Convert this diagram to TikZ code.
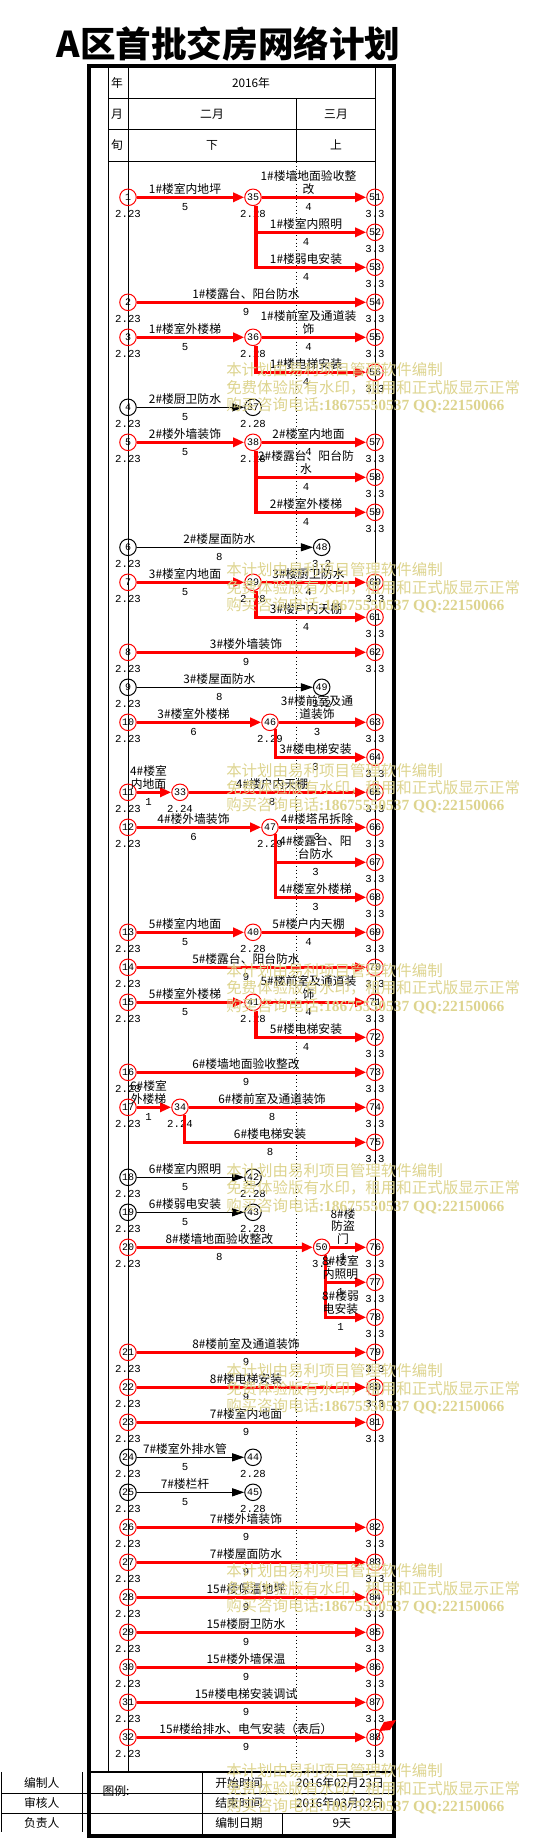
\documentclass[tikz,border=0pt]{standalone}
\usepackage{fontspec}
\setmainfont{Noto Sans CJK SC}
\newfontfamily\num{Liberation Mono}
\newfontfamily\wmb{Liberation Serif}
\usetikzlibrary{arrows.meta}
\definecolor{wm}{RGB}{221,212,143}
\tikzset{
 rn/.style={circle,draw=red,line width=0.75pt,minimum size=12.4pt,inner sep=0pt,font=\num\fontsize{7.5}{8}\selectfont},
 bn/.style={rn,draw=black},
 ra/.style={draw=red,line width=2.3pt,-{Triangle[length=8.25pt,width=6.75pt]}},
 ba/.style={draw=black,line width=0.75pt,-{Triangle[length=9pt,width=6pt]}},
 lbl/.style={anchor=south,inner sep=0pt,align=center,text depth=0pt,font=\fontsize{8.85}{9.45}\selectfont},
 dur/.style={inner sep=0pt,font=\num\fontsize{8}{8}\selectfont},
 dt/.style={inner sep=0pt,font=\num\fontsize{8}{8}\selectfont},
 hd/.style={inner sep=0pt,font=\fontsize{8.85}{9.45}\selectfont},
 wmt/.style={anchor=west,inner sep=0pt,text=wm,font=\fontsize{11.6}{12}\selectfont},
 gl/.style={line width=0.75pt},
}
\newcommand\nd[5]{\node[#4] (n#1) at (#2,{197.3+35*#3}) {#1};\node[dt] (d#1) at (#2,{213.8+35*#3}) {#5};}
\newcommand\lab[5]{\node[lbl] (l#1) at (#2,{193.8+35*#3}) {#4};\node[dur] (t#1) at (#2,{207.3+35*#3}) {#5};}
\begin{document}
\begin{tikzpicture}[x=0.75pt,y=-0.75pt]
\useasboundingbox (0,0) rectangle (533,1840);
% title
\node[font=\fontsize{26.7}{28}\selectfont\bfseries] (title) at (228.5,44) {A区首批交房网络计划};
% frame and grid
\draw[line width=3pt] (89,66.3) rectangle (394.2,1835.8);
\draw[gl] (108,66) -- (108,1772);
\draw[gl] (128,66) -- (128,1772);
\draw[gl] (375,66) -- (375,1772);
\draw[gl] (108,99) -- (375,99) (108,130) -- (375,130) (108,162) -- (375,162);
\draw[gl] (296.7,99) -- (296.7,162);
\draw[gl,dotted] (296.7,162) -- (296.7,1772);
\node[hd] (h1) at (117,83) {年};
\node[hd] (h2) at (251,83) {2016年};
\node[hd] (h3) at (117,114) {月};
\node[hd] (h4) at (212,114) {二月};
\node[hd] (h5) at (336,114) {三月};
\node[hd] (h6) at (117,145) {旬};
\node[hd] (h7) at (212,145) {下};
\node[hd] (h8) at (336,145) {上};
% bottom table
\draw[line width=1.6pt] (89,1772) -- (394.2,1772);
\draw[gl] (1.7,1772) -- (1.7,1832) (82.3,1772) -- (82.3,1832);
\draw[gl] (1.7,1793) -- (394,1793) (1.7,1813) -- (394,1813);
\draw[gl] (202.7,1772) -- (202.7,1835) (282.7,1813) -- (282.7,1835);
\node[hd] (b1) at (41.7,1783) {编制人};
\node[hd] (b2) at (41.7,1803) {审核人};
\node[hd] (b3) at (41.7,1823) {负责人};
\node[hd] (b4) at (116,1791) {图例:};
\node[hd] (b5) at (239,1783) {开始时间};
\node[hd] (b6) at (340,1783) {2016年02月23日};
\node[hd] (b7) at (239,1803) {结束时间};
\node[hd] (b8) at (340,1803) {2016年03月02日};
\node[hd] (b9) at (239,1823) {编制日期};
\node[hd] (b10) at (341.7,1823) {9天};
% nodes
\nd{1}{128}{0}{rn}{2.23}\nd{35}{253}{0}{rn}{2.28}\nd{51}{375}{0}{rn}{3.3}
\nd{52}{375}{1}{rn}{3.3}
\nd{53}{375}{2}{rn}{3.3}
\nd{2}{128}{3}{rn}{2.23}\nd{54}{375}{3}{rn}{3.3}
\nd{3}{128}{4}{rn}{2.23}\nd{36}{253}{4}{rn}{2.28}\nd{55}{375}{4}{rn}{3.3}
\nd{56}{375}{5}{rn}{3.3}
\nd{4}{128}{6}{bn}{2.23}\nd{37}{253}{6}{bn}{2.28}
\nd{5}{128}{7}{rn}{2.23}\nd{38}{253}{7}{rn}{2.28}\nd{57}{375}{7}{rn}{3.3}
\nd{58}{375}{8}{rn}{3.3}
\nd{59}{375}{9}{rn}{3.3}
\nd{6}{128}{10}{bn}{2.23}\nd{48}{321.7}{10}{bn}{3.2}
\nd{7}{128}{11}{rn}{2.23}\nd{39}{253}{11}{rn}{2.28}\nd{60}{375}{11}{rn}{3.3}
\nd{61}{375}{12}{rn}{3.3}
\nd{8}{128}{13}{rn}{2.23}\nd{62}{375}{13}{rn}{3.3}
\nd{9}{128}{14}{bn}{2.23}\nd{49}{321.7}{14}{bn}{3.2}
\nd{10}{128}{15}{rn}{2.23}\nd{46}{270}{15}{rn}{2.29}\nd{63}{375}{15}{rn}{3.3}
\nd{64}{375}{16}{rn}{3.3}
\nd{11}{128}{17}{rn}{2.23}\nd{33}{180}{17}{rn}{2.24}\nd{65}{375}{17}{rn}{3.3}
\nd{12}{128}{18}{rn}{2.23}\nd{47}{270}{18}{rn}{2.29}\nd{66}{375}{18}{rn}{3.3}
\nd{67}{375}{19}{rn}{3.3}
\nd{68}{375}{20}{rn}{3.3}
\nd{13}{128}{21}{rn}{2.23}\nd{40}{253}{21}{rn}{2.28}\nd{69}{375}{21}{rn}{3.3}
\nd{14}{128}{22}{rn}{2.23}\nd{70}{375}{22}{rn}{3.3}
\nd{15}{128}{23}{rn}{2.23}\nd{41}{253}{23}{rn}{2.28}\nd{71}{375}{23}{rn}{3.3}
\nd{72}{375}{24}{rn}{3.3}
\nd{16}{128}{25}{rn}{2.23}\nd{73}{375}{25}{rn}{3.3}
\nd{17}{128}{26}{rn}{2.23}\nd{34}{180}{26}{rn}{2.24}\nd{74}{375}{26}{rn}{3.3}
\nd{75}{375}{27}{rn}{3.3}
\nd{18}{128}{28}{bn}{2.23}\nd{42}{253}{28}{bn}{2.28}
\nd{19}{128}{29}{bn}{2.23}\nd{43}{253}{29}{bn}{2.28}
\nd{20}{128}{30}{rn}{2.23}\nd{50}{321.7}{30}{rn}{3.2}\nd{76}{375}{30}{rn}{3.3}
\nd{77}{375}{31}{rn}{3.3}
\nd{78}{375}{32}{rn}{3.3}
\nd{21}{128}{33}{rn}{2.23}\nd{79}{375}{33}{rn}{3.3}
\nd{22}{128}{34}{rn}{2.23}\nd{80}{375}{34}{rn}{3.3}
\nd{23}{128}{35}{rn}{2.23}\nd{81}{375}{35}{rn}{3.3}
\nd{24}{128}{36}{bn}{2.23}\nd{44}{253}{36}{bn}{2.28}
\nd{25}{128}{37}{bn}{2.23}\nd{45}{253}{37}{bn}{2.28}
\nd{26}{128}{38}{rn}{2.23}\nd{82}{375}{38}{rn}{3.3}
\nd{27}{128}{39}{rn}{2.23}\nd{83}{375}{39}{rn}{3.3}
\nd{28}{128}{40}{rn}{2.23}\nd{84}{375}{40}{rn}{3.3}
\nd{29}{128}{41}{rn}{2.23}\nd{85}{375}{41}{rn}{3.3}
\nd{30}{128}{42}{rn}{2.23}\nd{86}{375}{42}{rn}{3.3}
\nd{31}{128}{43}{rn}{2.23}\nd{87}{375}{43}{rn}{3.3}
\nd{32}{128}{44}{rn}{2.23}\nd{88}{375}{44}{rn}{3.3}
% arrows
\draw[ra] (n1) -- (n35); \draw[ra] (n35) -- (n51);
\draw[ra] (n35.-70) |- (n52); \draw[ra] (n35.-70) |- (n53);
\draw[ra] (n2) -- (n54);
\draw[ra] (n3) -- (n36); \draw[ra] (n36) -- (n55); \draw[ra] (n36.-70) |- (n56);
\draw[ba] (n4) -- (n37);
\draw[ra] (n5) -- (n38); \draw[ra] (n38) -- (n57);
\draw[ra] (n38.-70) |- (n58); \draw[ra] (n38.-70) |- (n59);
\draw[ba] (n6) -- (n48);
\draw[ra] (n7) -- (n39); \draw[ra] (n39) -- (n60); \draw[ra] (n39.-70) |- (n61);
\draw[ra] (n8) -- (n62);
\draw[ba] (n9) -- (n49);
\draw[ra] (n10) -- (n46); \draw[ra] (n46) -- (n63); \draw[ra] (n46.-51) |- (n64);
\draw[ra] (n11) -- (n33); \draw[ra] (n33) -- (n65);
\draw[ra] (n12) -- (n47); \draw[ra] (n47) -- (n66);
\draw[ra] (n47.-51) |- (n67); \draw[ra] (n47.-51) |- (n68);
\draw[ra] (n13) -- (n40); \draw[ra] (n40) -- (n69);
\draw[ra] (n14) -- (n70);
\draw[ra] (n15) -- (n41); \draw[ra] (n41) -- (n71); \draw[ra] (n41.-70) |- (n72);
\draw[ra] (n16) -- (n73);
\draw[ra] (n17) -- (n34); \draw[ra] (n34) -- (n74); \draw[ra] (n34.-60) |- (n75);
\draw[ba] (n18) -- (n42);
\draw[ba] (n19) -- (n43);
\draw[ra] (n20) -- (n50); \draw[ra] (n50) -- (n76);
\draw[ra] (n50.-66) |- (n77); \draw[ra] (n50.-66) |- (n78);
\draw[ra] (n21) -- (n79);
\draw[ra] (n22) -- (n80);
\draw[ra] (n23) -- (n81);
\draw[ba] (n24) -- (n44);
\draw[ba] (n25) -- (n45);
\draw[ra] (n26) -- (n82);
\draw[ra] (n27) -- (n83);
\draw[ra] (n28) -- (n84);
\draw[ra] (n29) -- (n85);
\draw[ra] (n30) -- (n86);
\draw[ra] (n31) -- (n87);
\draw[ra] (n32) -- (n88);
% labels
\lab{a1}{185}{0}{1\#楼室内地坪}{5}
\lab{a2}{308.5}{0}{1\#楼墙地面验收整\\改}{4}
\lab{a3}{306}{1}{1\#楼室内照明}{4}
\lab{a4}{306}{2}{1\#楼弱电安装}{4}
\lab{a5}{246}{3}{1\#楼露台、阳台防水}{9}
\lab{a6}{185}{4}{1\#楼室外楼梯}{5}
\lab{a7}{308.5}{4}{1\#楼前室及通道装\\饰}{4}
\lab{a8}{306}{5}{1\#楼电梯安装}{4}
\lab{a9}{185}{6}{2\#楼厨卫防水}{5}
\lab{a10}{185}{7}{2\#楼外墙装饰}{5}
\lab{a11}{308.5}{7}{2\#楼室内地面}{4}
\lab{a12}{306}{8}{2\#楼露台、阳台防\\水}{4}
\lab{a13}{306}{9}{2\#楼室外楼梯}{4}
\lab{a14}{219.4}{10}{2\#楼屋面防水}{8}
\lab{a15}{185}{11}{3\#楼室内地面}{5}
\lab{a16}{308.5}{11}{3\#楼厨卫防水}{4}
\lab{a17}{306}{12}{3\#楼户内天棚}{4}
\lab{a18}{246}{13}{3\#楼外墙装饰}{9}
\lab{a19}{219.4}{14}{3\#楼屋面防水}{8}
\lab{a20}{193.5}{15}{3\#楼室外楼梯}{6}
\lab{a21}{317}{15}{3\#楼前室及通\\道装饰}{3}
\lab{a22}{315.5}{16}{3\#楼电梯安装}{3}
\lab{a23}{148.5}{17}{4\#楼室\\内地面}{1}
\lab{a24}{272}{17}{4\#楼户内天棚}{8}
\lab{a25}{193.5}{18}{4\#楼外墙装饰}{6}
\lab{a26}{317}{18}{4\#楼塔吊拆除}{3}
\lab{a27}{315.5}{19}{4\#楼露台、阳\\台防水}{3}
\lab{a28}{315.5}{20}{4\#楼室外楼梯}{3}
\lab{a29}{185}{21}{5\#楼室内地面}{5}
\lab{a30}{308.5}{21}{5\#楼户内天棚}{4}
\lab{a31}{246}{22}{5\#楼露台、阳台防水}{9}
\lab{a32}{185}{23}{5\#楼室外楼梯}{5}
\lab{a33}{308.5}{23}{5\#楼前室及通道装\\饰}{4}
\lab{a34}{306}{24}{5\#楼电梯安装}{4}
\lab{a35}{246}{25}{6\#楼墙地面验收整改}{9}
\lab{a36}{148.5}{26}{6\#楼室\\外楼梯}{1}
\lab{a37}{272}{26}{6\#楼前室及通道装饰}{8}
\lab{a38}{270}{27}{6\#楼电梯安装}{8}
\lab{a39}{185}{28}{6\#楼室内照明}{5}
\lab{a40}{185}{29}{6\#楼弱电安装}{5}
\lab{a41}{219.4}{30}{8\#楼墙地面验收整改}{8}
\lab{a42}{343}{30}{8\#楼\\防盗\\门}{1}
\lab{a43}{340.5}{31}{8\#楼室\\内照明}{1}
\lab{a44}{340.5}{32}{8\#楼弱\\电安装}{1}
\lab{a45}{246}{33}{8\#楼前室及通道装饰}{9}
\lab{a46}{246}{34}{8\#楼电梯安装}{9}
\lab{a47}{246}{35}{7\#楼室内地面}{9}
\lab{a48}{185}{36}{7\#楼室外排水管}{5}
\lab{a49}{185}{37}{7\#楼栏杆}{5}
\lab{a50}{246}{38}{7\#楼外墙装饰}{9}
\lab{a51}{246}{39}{7\#楼屋面防水}{9}
\lab{a52}{246}{40}{15\#楼保温地坪}{9}
\lab{a53}{246}{41}{15\#楼厨卫防水}{9}
\lab{a54}{246}{42}{15\#楼外墙保温}{9}
\lab{a55}{246}{43}{15\#楼电梯安装调试}{9}
\lab{a56}{246}{44}{15\#楼给排水、电气安装（表后）}{9}
% red flag
\fill[red] (384,1722) -- (396,1720) -- (390,1730) -- (379,1731) -- cycle;
\draw[red,line width=0.6pt] (381,1729) -- (377,1740);
% watermark
\foreach \i in {0,...,7}{
 \node[wmt] (wa\i) at (226,{370+200.1*\i}) {本计划由易利项目管理软件编制};
 \node[wmt] (wb\i) at (226,{387.8+200.1*\i}) {免费体验版有水印，租用和正式版显示正常};
 \node[wmt] (wc\i) at (226,{405.5+200.1*\i}) {购买咨询电话{\wmb\bfseries :18675550537 QQ:22150066}};
}
\end{tikzpicture}
\end{document}
